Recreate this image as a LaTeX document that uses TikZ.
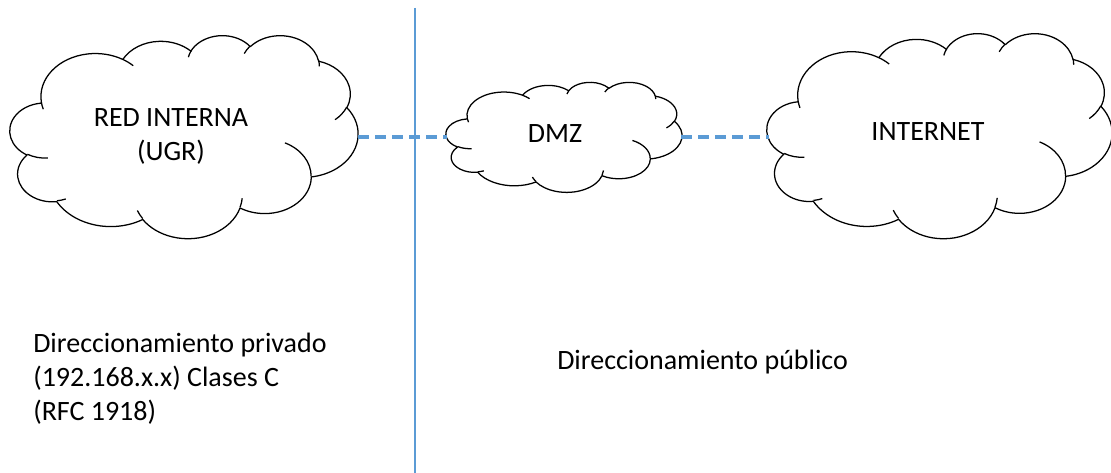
\documentclass[tikz,border=0pt]{standalone}
\usepackage{fontspec}
\setmainfont{Carlito}
\definecolor{lineblue}{RGB}{91,155,213}
\tikzset{
  cloudline/.style={draw=black, line width=0.95pt, line join=round},
  lbl/.style={font=\fontsize{21}{25.5}\selectfont, inner sep=0pt, text=black},
  link/.style={draw=lineblue, line width=2.3pt, dash pattern=on 8.25pt off 4.5pt},
  vline/.style={draw=lineblue, line width=0.9pt}
}
% elliptic arc with DrawingML-style (visual) angles: wR hR stAng swAng
\newcommand\carc[4]{arc[x radius=#1, y radius=#2,
  start angle={atan2((#1)*sin(#3),(#2)*cos(#3))},
  delta angle={mod(atan2((#1)*sin((#3)+(#4)),(#2)*cos((#3)+(#4)))-atan2((#1)*sin(#3),(#2)*cos(#3))+720,360)}]}
\newcommand\drawcloud[4]{%
  \pgfmathsetmacro\cldxu{#3/43.2*0.75}%
  \pgfmathsetmacro\cldyu{#4/43.2*0.75}%
  \begin{scope}[shift={(#1,#2)}, x=\cldxu pt, y=-\cldyu pt]
    \fill[white] (3.900,14.370)
      \carc{6.753}{9.190}{-190.487483}{123.780533}
      \carc{5.333}{7.267}{-144.10238}{89.94523}
      \carc{4.365}{5.945}{-145.80792}{99.72302}
      \carc{4.857}{6.595}{-130.98607}{117.24173}
      \carc{5.333}{7.273}{-78.70888}{109.02692}
      \carc{6.775}{9.220}{-46.26725}{130.269}
      \carc{5.785}{7.867}{0.62502}{114.03333}
      \carc{6.752}{9.215}{22.4516}{115.17255}
      \carc{7.720}{10.543}{66.24263}{75.71102}
      \carc{4.360}{5.918}{-274.94208}{146.73557}
      \carc{4.345}{5.945}{-246.8285}{152.51885}
      -- cycle;
    \draw[cloudline] (3.900,14.370)
      \carc{6.753}{9.190}{-190.487483}{123.780533}
      \carc{5.333}{7.267}{-144.10238}{89.94523}
      \carc{4.365}{5.945}{-145.80792}{99.72302}
      \carc{4.857}{6.595}{-130.98607}{117.24173}
      \carc{5.333}{7.273}{-78.70888}{109.02692}
      \carc{6.775}{9.220}{-46.26725}{130.269}
      \carc{5.785}{7.867}{0.62502}{114.03333}
      \carc{6.752}{9.215}{22.4516}{115.17255}
      \carc{7.720}{10.543}{66.24263}{75.71102}
      \carc{4.360}{5.918}{-274.94208}{146.73557}
      \carc{4.345}{5.945}{-246.8285}{152.51885}
      -- cycle;
    \draw[cloudline]
      (4.693,26.177) \carc{4.345}{5.945}{86.742}{26.4295}
      (6.928,34.899) \carc{4.360}{5.918}{73.61047}{11.44747}
      (16.478,39.090) \carc{6.752}{9.215}{137.62415}{14.0811}
      (28.827,34.751) \carc{6.752}{9.215}{6.45327}{15.99835}
      (34.129,22.954) \carc{5.785}{7.867}{-70.29235}{70.91737}
      (41.798,15.354) \carc{5.333}{7.273}{30.31803}{27.7515}
      (38.324,5.426) \carc{4.857}{6.595}{-13.74433}{14.8589}
      (29.078,3.952) \carc{4.857}{6.595}{-149.18145}{18.19537}
      (22.141,4.720) \carc{4.365}{5.945}{-163.49427}{17.68635}
      (14.000,5.192) \carc{6.753}{9.190}{-66.70695}{12.31935}
      (4.127,15.789) \carc{6.753}{9.190}{157.65435}{11.85817};
  \end{scope}}
\begin{document}
\begin{tikzpicture}[x=0.75pt, y=-0.75pt]
  \fill[white] (0,0) rectangle (1111,473);
  \useasboundingbox (0,0) rectangle (1111,473);
  % divider
  \coordinate (vtop) at (415,8);
  \coordinate (vbot) at (415,473);
  \draw[vline] (vtop) -- (vbot);
  % clouds
  \drawcloud{10}{35}{348}{203}
  \drawcloud{446}{82}{236}{110}
  \drawcloud{767}{33}{345}{205}
  % connector ends
  \coordinate (redE) at (358,137);
  \coordinate (dmzW) at (447,137);
  \coordinate (dmzE) at (681,137);
  \coordinate (netW) at (769,137);
  \draw[link] (redE) -- (dmzW);
  \draw[link] (dmzE) -- (netW);
  % labels
  \node[lbl, align=center] (red) at (171,136) {RED INTERNA\\(UGR)};
  \node[lbl, anchor=base] (dmz) at (555,143) {DMZ};
  \node[lbl, anchor=base] (net) at (928,141) {INTERNET};
  \node[lbl, align=left, anchor=north west] (priv) at (33,333)
    {Direccionamiento privado\\(192.168.x.x) Clases C\\(RFC 1918)};
  \node[lbl, anchor=base west] (pub) at (557,370) {Direccionamiento público};
\end{tikzpicture}
\end{document}
